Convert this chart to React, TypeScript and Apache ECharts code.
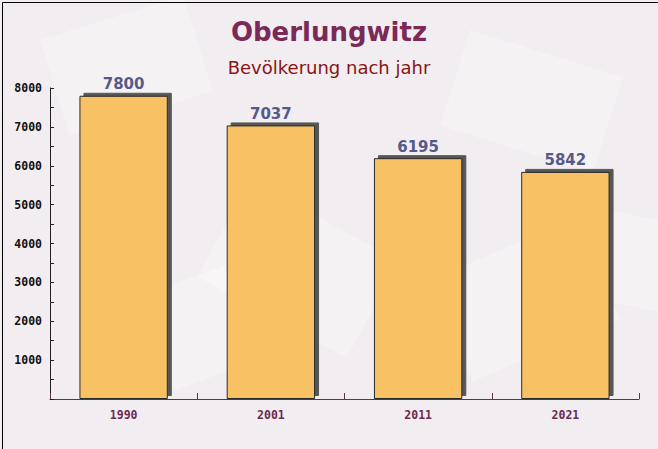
import React, { useEffect, useRef } from "react";
import * as echarts from "echarts";

const years = ["1990", "2001", "2011", "2021"];
const population = [7800, 7037, 6195, 5842];
const yTicks = [1000, 2000, 3000, 4000, 5000, 6000, 7000, 8000];
const titleText = "Oberlungwitz";
const subtitleText = "Bevölkerung nach jahr";

export default function App() {
  const ref = useRef<HTMLDivElement>(null);
  useEffect(() => {
    if (!ref.current) return;
    const chart = echarts.init(ref.current, undefined, { renderer: "svg" });
    const envelopes = [
      { x: 40, y: 40, w: 150, h: 100, r: 0.3 },
      { x: 250, y: 180, w: 170, h: 110, r: -0.5 },
      { x: 470, y: 30, w: 160, h: 100, r: -0.3 },
      { x: 130, y: 300, w: 150, h: 100, r: 0.35 },
      { x: 430, y: 280, w: 160, h: 110, r: 0.4 },
      { x: 560, y: 200, w: 120, h: 90, r: -0.2 },
    ];
    chart.setOption({
      animation: false,
      backgroundColor: "#f1edf0",
      title: [
        {
          text: titleText,
          left: "center",
          top: 14,
          textStyle: { fontFamily: "DejaVu Sans", fontWeight: "bold", fontSize: 26, color: "#7b2a58" },
        },
        {
          text: subtitleText,
          left: "center",
          top: 53,
          textStyle: { fontFamily: "DejaVu Sans", fontWeight: "normal", fontSize: 18, color: "#8b1414" },
        },
      ],
      graphic: [
        ...envelopes.map((e) => ({
          type: "rect",
          x: e.x,
          y: e.y,
          rotation: e.r,
          z: -10,
          silent: true,
          shape: { width: e.w, height: e.h },
          style: { fill: "rgba(255,255,255,0.3)" },
        })),
        {
          type: "rect",
          left: 0,
          top: 0,
          z: 100,
          silent: true,
          shape: { x: 0.5, y: 0.5, width: 657, height: 448 },
          style: { fill: "none", stroke: "#000", lineWidth: 1 },
        },
      ],
      grid: { left: 50, right: 19, top: 88, bottom: 50 },
      xAxis: {
        type: "category",
        data: years,
        axisLine: { lineStyle: { color: "#6b2a50", width: 1 } },
        axisTick: { show: true, inside: true, length: 6, lineStyle: { color: "#6b2a50" } },
        axisLabel: {
          color: "#6b2a50",
          fontFamily: "DejaVu Sans Mono",
          fontWeight: "bold",
          fontSize: 11.5,
          margin: 10,
        },
      },
      yAxis: {
        type: "value",
        min: 0,
        max: 8000,
        interval: 1000,
        axisLine: { show: true, lineStyle: { color: "#222", width: 1 } },
        axisTick: { show: true, inside: true, length: 4, lineStyle: { color: "#222" } },
        minorTick: { show: true, splitNumber: 2, length: 4, lineStyle: { color: "#222" } },
        splitLine: { show: false },
        axisLabel: {
          color: "#111",
          fontFamily: "DejaVu Sans Mono",
          fontWeight: "bold",
          fontSize: 11.5,
          margin: 8,
          formatter: (v: number) => (yTicks.includes(v) ? String(v) : ""),
        },
      },
      series: [
        {
          type: "bar",
          data: population,
          barWidth: "60%",
          itemStyle: {
            color: "#f8c163",
            borderColor: "#2a2a2a",
            borderWidth: 1,
            shadowColor: "rgba(70,70,70,0.9)",
            shadowBlur: 0,
            shadowOffsetX: 4,
            shadowOffsetY: -3,
          },
          label: {
            show: true,
            position: "top",
            distance: 4,
            color: "#555a88",
            fontFamily: "DejaVu Sans",
            fontWeight: "bold",
            fontSize: 15,
          },
        },
      ],
    });
    return () => chart.dispose();
  }, []);
  return (
    <div
      ref={ref}
      style={{ position: "fixed", left: 0, top: 0, width: 658, height: 449 }}
    />
  );
}
